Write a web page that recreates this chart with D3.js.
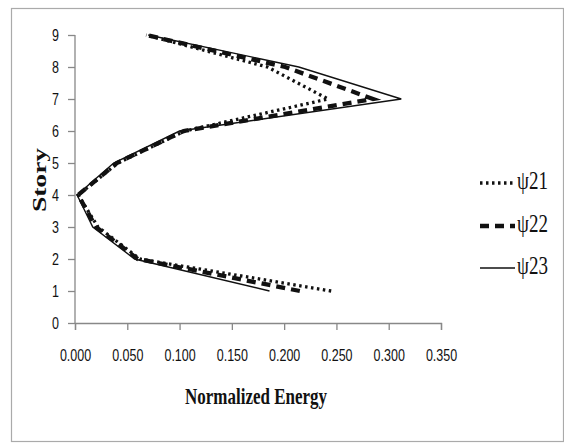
<!DOCTYPE html>
<html>
<head>
<meta charset="utf-8">
<script src="https://cdn.jsdelivr.net/npm/d3@7"></script>
<style>
  body { margin: 0; background: #fff; }
</style>
</head>
<body>
<svg id="chart"></svg>
<script>
const stories = [1, 2, 3, 4, 5, 6, 7, 8, 9];
const psi21 = [0.245, 0.062, 0.022, 0.003, 0.041, 0.105, 0.242, 0.184, 0.068];
const psi22 = [0.215, 0.060, 0.020, 0.003, 0.040, 0.104, 0.285, 0.201, 0.068];
const psi23 = [0.186, 0.057, 0.017, 0.002, 0.037, 0.100, 0.312, 0.214, 0.070];
const seriesNames = ["ψ21", "ψ22", "ψ23"];
const xTicks = [0, 0.05, 0.1, 0.15, 0.2, 0.25, 0.3, 0.35];
const yTicks = [0, 1, 2, 3, 4, 5, 6, 7, 8, 9];

let svg = d3.select("#chart").attr("width", 564).attr("height", 444),
  margin = { top: 35, left: 75 },
  width = 366,
  height = 288;

svg.append("rect")
  .attr("x", 11.5).attr("y", 8.5).attr("width", 552).attr("height", 433)
  .attr("fill", "#fff").attr("stroke", "#aaa").attr("stroke-width", 1.2);

let xScale = d3.scaleLinear().domain([0, 0.35]).range([0, width]),
  yScale = d3.scaleLinear().domain([0, 9]).range([height, 0]);

let g = svg.append("g").attr("transform", "translate(" + margin.left + "," + margin.top + ")");

let xAxis = g.append("g")
  .attr("transform", "translate(0," + height + ")")
  .call(d3.axisBottom(xScale).tickValues(xTicks).tickFormat(d3.format(".3f")).tickSize(7).tickPadding(10));

let yAxis = g.append("g")
  .call(d3.axisLeft(yScale).tickValues(yTicks).tickSize(7).tickPadding(9));

[xAxis, yAxis].forEach((a) => {
  a.select(".domain").attr("stroke", "#888").attr("stroke-width", 1.3);
  a.selectAll(".tick line").attr("stroke", "#888").attr("stroke-width", 1.3);
  a.selectAll(".tick text")
    .attr("font-family", "Liberation Sans, Arial, sans-serif")
    .attr("font-size", "12.5px")
    .attr("fill", "#111");
});
yAxis.selectAll(".domain").attr("d", "M0," + height + "V0");

// stretch the tick labels vertically like the reference
xAxis.selectAll(".tick text").attr("y", 0).attr("transform", "translate(0,26) scale(1,1.38)");
yAxis.selectAll(".tick text").attr("x", 0).attr("transform", "translate(-16,0) scale(1,1.38)");

svg.append("text")
  .attr("transform", "translate(256,404) scale(1,1.35)")
  .attr("text-anchor", "middle")
  .attr("font-family", "Liberation Serif, Times New Roman, serif")
  .attr("font-weight", "bold")
  .attr("font-size", "17px")
  .attr("fill", "#111")
  .text("Normalized Energy");

svg.append("text")
  .attr("transform", "translate(46,180) scale(1,1.45) rotate(-90)")
  .attr("text-anchor", "middle")
  .attr("font-family", "Liberation Serif, Times New Roman, serif")
  .attr("font-weight", "bold")
  .attr("font-size", "19px")
  .attr("fill", "#111")
  .text("Story");

const styles = [
  { w: 3.3, dash: "2.5,3.5" },
  { w: 4.3, dash: "9,6" },
  { w: 1.4, dash: null }
];
const data = [psi21, psi22, psi23];

let line = d3.line()
  .x((d) => xScale(d[0]))
  .y((d) => yScale(d[1]));

[2, 1, 0].forEach((i) => {
  g.append("path")
    .datum(data[i].map((v, k) => [v, stories[k]]))
    .attr("fill", "none")
    .attr("stroke", "#111")
    .attr("stroke-width", styles[i].w)
    .attr("stroke-dasharray", styles[i].dash)
    .attr("stroke-linejoin", "miter")
    .attr("d", line);
});

let legend = svg.append("g");
const legendY = [183, 226, 268];
seriesNames.forEach((name, i) => {
  legend.append("line")
    .attr("x1", 480).attr("x2", 515)
    .attr("y1", legendY[i]).attr("y2", legendY[i])
    .attr("stroke", "#111")
    .attr("stroke-width", styles[i].w)
    .attr("stroke-dasharray", styles[i].dash);
  legend.append("text")
    .attr("transform", "translate(517," + (legendY[i] + 6) + ") scale(1,1.35)")
    .attr("font-family", "Liberation Serif, Times New Roman, serif")
    .attr("font-size", "19px")
    .attr("fill", "#111")
    .text(name);
});
</script>
</body>
</html>
